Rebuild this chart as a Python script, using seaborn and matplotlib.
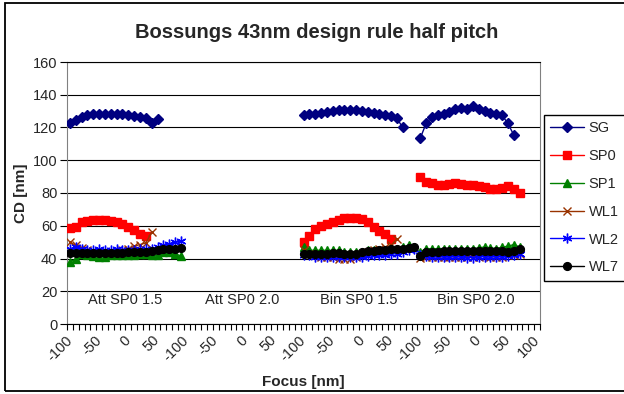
import numpy as np
import pandas as pd
import seaborn as sns
import matplotlib
matplotlib.use("Agg")
import matplotlib.pyplot as plt
from matplotlib.lines import Line2D
from matplotlib.patches import Rectangle

# ---------------- data ----------------
FOCUS = [-100, -90, -80, -70, -60, -50, -40, -30, -20, -10, 0, 10, 20, 30, 40, 50, 60, 70, 80, 90]
FOCUS_LAST = [-100, -90, -80, -70, -60, -50, -40, -30, -20, -10, 0, 10, 20, 30, 40, 50, 60, 70, 80, 90, 100]
GROUPS = ["Att SP0 1.5", "Att SP0 2.0", "Bin SP0 1.5", "Bin SP0 2.0"]
SERIES = ["SG", "SP0", "SP1", "WL1", "WL2", "WL7"]

SG_ATT15 = [122.5, 124.5, 126.5, 127.5, 128, 128.5, 128, 128.5, 128.5, 128, 127.5, 127, 126.5, 125.5, 123, 125]
SG_ATT20 = []
SG_BIN15 = [127.5, 128, 128.5, 129, 129.5, 130, 130.5, 130.5, 130.5, 130.5, 130, 129.5, 129, 128, 127.5, 127, 125.5, 120]
SG_BIN20 = [113.5, 122.5, 126.5, 127.5, 128.5, 129.5, 131, 132, 131.5, 133, 131.5, 130, 129, 128, 127.5, 122.5, 115.5]

SP0_ATT15 = [58.5, 59.5, 62, 63, 63.5, 63.5, 63.5, 63, 62.5, 61, 59.5, 57.5, 55, 54]
SP0_ATT20 = []
SP0_BIN15 = [50, 54, 58, 60, 61, 62, 63.5, 64.5, 64.5, 64.5, 64, 62.5, 59, 57, 55, 52]
SP0_BIN20 = [90, 87, 86, 85, 85, 85.5, 86, 85.5, 85, 85, 84.5, 83.5, 82.5, 82.5, 83, 84, 82.5, 80]

SP1_ATT15 = [38, 39.5, 42.5, 42, 41.5, 41, 41, 42, 42, 42, 42, 42, 42.5, 42.5, 42, 42, 44, 44, 43, 41.5]
SP1_ATT20 = []
SP1_BIN15 = [47, 45, 45, 45, 45, 45, 45, 44, 44, 44, 44, 45, 45, 45, 45, 45.5, 46, 47, 48, 47]
SP1_BIN20 = [44, 46, 46, 46, 46, 46, 46, 46, 46, 46, 46.5, 47, 46.5, 46, 47, 47.5, 48.5, 47]

WL1_ATT15 = [50, 48, 46.5, 45, 44.5, 44, 44, 44, 44.5, 45, 46, 47.5, 48.5, 49.5, 56]
WL1_ATT20 = []
WL1_BIN15 = [45, 43, 42, 41, 41, 41, 40, 40, 40, 41, 42, 44, 45, 46, 47, 48, 52]
WL1_BIN20 = [40.5, 41, 41, 41, 41, 41, 41, 41, 41, 41, 41, 41.5, 41, 41, 41, 42, 42, 43]

WL2_ATT15 = [46, 47, 46, 45, 45, 45.5, 45, 45, 45.5, 45, 45, 45, 45.5, 46, 46, 47, 48, 49, 50, 50.5]
WL2_ATT20 = []
WL2_BIN15 = [42, 42, 41, 41, 41, 41, 41, 41, 41, 41, 41, 41.5, 42, 42, 42, 43, 43, 44, 45, 46]
WL2_BIN20 = [42, 41.5, 41, 41, 41, 41, 41, 41, 40.5, 40.5, 41, 41, 41, 41, 41, 41.5, 42, 43]

WL7_ATT15 = [43.5, 43.5, 43.5, 43.5, 43.5, 43.5, 43.5, 43.5, 43.5, 43.5, 44, 44, 44, 44, 44.5, 45, 45.5, 46, 46, 46.5]
WL7_ATT20 = []
WL7_BIN15 = [43, 43, 43, 43, 43, 43.5, 43.5, 43, 42.5, 43, 44, 44.5, 44.5, 45, 45, 45.5, 46, 46, 46.5, 47]
WL7_BIN20 = [41.5, 44, 44, 44, 44.5, 44.5, 44.5, 44.5, 44.5, 44.5, 44.5, 44.5, 44.5, 44.5, 44.5, 44, 44.5, 45.5]

DATA = {
    "SG": [SG_ATT15, SG_ATT20, SG_BIN15, SG_BIN20],
    "SP0": [SP0_ATT15, SP0_ATT20, SP0_BIN15, SP0_BIN20],
    "SP1": [SP1_ATT15, SP1_ATT20, SP1_BIN15, SP1_BIN20],
    "WL1": [WL1_ATT15, WL1_ATT20, WL1_BIN15, WL1_BIN20],
    "WL2": [WL2_ATT15, WL2_ATT20, WL2_BIN15, WL2_BIN20],
    "WL7": [WL7_ATT15, WL7_ATT20, WL7_BIN15, WL7_BIN20],
}

# category axis: all focus labels in order
CATEGORIES = FOCUS + FOCUS + FOCUS + FOCUS_LAST
GROUP_LEN = len(FOCUS)

rows = []
for s in SERIES:
    for g, vals in enumerate(DATA[s]):
        for i, v in enumerate(vals):
            rows.append({"series": s, "segment": f"{s}-{g}", "pos": g * GROUP_LEN + i,
                         "focus": CATEGORIES[g * GROUP_LEN + i], "cd": v})
df = pd.DataFrame(rows)

# ---------------- style ----------------
sns.set_theme(style="white")
plt.rcParams["font.family"] = ["Liberation Sans", "DejaVu Sans"]

STYLE = {
    "SG":  dict(color="#000080", marker="D", ms=4.6),
    "SP0": dict(color="#FF0000", marker="s", ms=5.2),
    "SP1": dict(color="#008000", marker="^", ms=5.6),
    "WL1": dict(color="#993300", marker="x", ms=6.0),
    "WL2": dict(color="#0000FF", marker=(6, 2, 0), ms=7.0),
    "WL7": dict(color="#000000", marker="o", ms=5.6),
}

fig = plt.figure(figsize=(6.24, 3.94), dpi=100)
ax = fig.add_axes([67 / 624, 1 - 324 / 394, (540 - 67) / 624, (324 - 62) / 394])

for s in SERIES:
    st = STYLE[s]
    sns.lineplot(data=df[df.series == s], x="pos", y="cd", units="segment", estimator=None,
                 color=st["color"], marker=st["marker"], markersize=st["ms"],
                 markeredgecolor=st["color"], markerfacecolor=st["color"], markeredgewidth=1.0,
                 linewidth=1.0, legend=False, ax=ax, zorder=3)

# axes
ax.set_xlim(-0.5, len(CATEGORIES) - 0.5)
ax.set_ylim(0, 160)
ax.set_yticks(np.arange(0, 161, 20))
ax.yaxis.grid(True, color="black", linewidth=0.8)
ax.set_axisbelow(True)
major = list(range(0, len(CATEGORIES), 5))
ax.set_xticks(major)
ax.set_xticklabels([str(CATEGORIES[i]) for i in major], rotation=45, ha="right",
                   va="center", rotation_mode="anchor", fontsize=10.5)
ax.set_xticks(np.arange(-0.5, len(CATEGORIES), 1), minor=True)
ax.tick_params(axis="x", which="major", length=0, pad=10)
ax.tick_params(axis="x", which="minor", length=4, width=0.8, direction="out", color="black", bottom=True)
ax.tick_params(axis="y", which="major", length=5, width=0.8, direction="out", color="black",
               left=True, labelsize=10.5, pad=2)
for side in ["left", "bottom", "right", "top"]:
    ax.spines[side].set_visible(True)
    ax.spines[side].set_linewidth(0.8)
ax.spines["left"].set_color("#808080")
ax.spines["right"].set_color("#808080")
ax.spines["bottom"].set_color("black")
ax.spines["top"].set_color("black")

ax.set_xlabel("Focus [nm]", fontsize=11, fontweight="bold", labelpad=8)
ax.set_ylabel("CD [nm]", fontsize=11, fontweight="bold", labelpad=3)

# group labels
for g, name in enumerate(GROUPS):
    ax.text(g * GROUP_LEN + (GROUP_LEN - 1) / 2, 14.5, name, ha="center", va="center", fontsize=10.5)

fig.text(317 / 624, 1 - 32 / 394, "Bossungs 43nm design rule half pitch", ha="center", va="center",
         fontsize=14.5, fontweight="bold")

# legend
handles = [Line2D([], [], color=STYLE[s]["color"], marker=STYLE[s]["marker"], markersize=STYLE[s]["ms"],
                  markeredgecolor=STYLE[s]["color"], markerfacecolor=STYLE[s]["color"],
                  markeredgewidth=1.0, linewidth=1.0) for s in SERIES]
leg = ax.legend(handles, SERIES, loc="upper left", bbox_to_anchor=(544 / 624, 1 - 115 / 394),
                bbox_transform=fig.transFigure, frameon=True, fancybox=False, framealpha=1,
                edgecolor="black", fontsize=10.5, handlelength=2.35, handletextpad=0.3,
                borderpad=0.42, labelspacing=0.95, borderaxespad=0)
leg.get_frame().set_linewidth(1.0)

# outer chart border
fig.patches.append(Rectangle((5 / 624, 3 / 394), 1.0, 388 / 394, transform=fig.transFigure,
                             fill=False, edgecolor="black", linewidth=1.3))

fig.savefig("out.png", dpi=100)
